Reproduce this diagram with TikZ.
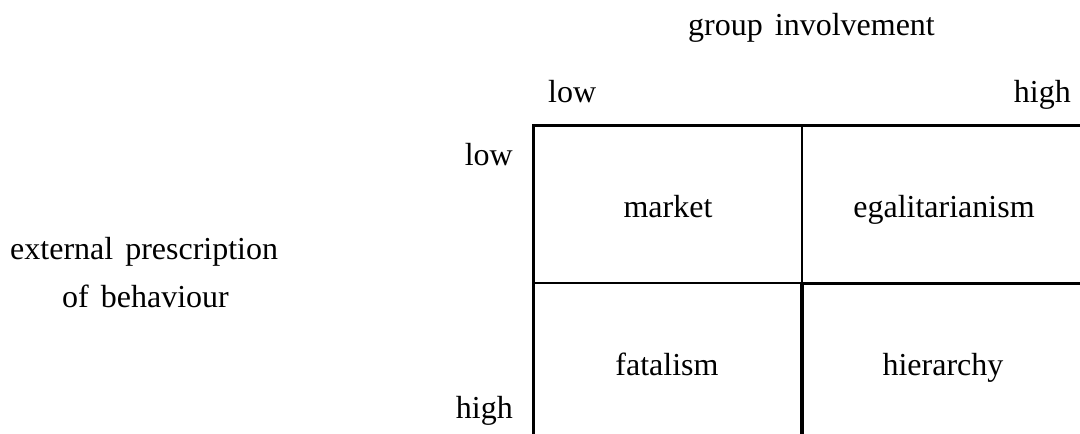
\documentclass[tikz,border=0pt]{standalone}
\usepackage{fontspec}
\setmainfont{Liberation Serif}
\newcommand{\lblfont}{\fontsize{32}{38}\selectfont\spaceskip=12pt plus 0pt minus 0pt\relax}
\begin{document}
\begin{tikzpicture}[x=1pt,y=-1pt,
  lbl/.style={inner sep=0pt,font=\lblfont},
  thin grid/.style={line width=2pt},
  mid grid/.style={line width=3pt},
  thick grid/.style={line width=4pt}]
\useasboundingbox (0,0) rectangle (1080,434);
% grid corners
\coordinate (tl) at (533,125);
\coordinate (tr) at (1080,125);
\coordinate (tm) at (802,125);
\coordinate (ml) at (533,283);
\coordinate (mm) at (802,283);
\coordinate (mr) at (1080,283);
\coordinate (bl) at (533,434);
\coordinate (bm) at (802,434);
\draw[mid grid,line cap=rect] (tr) -- (tl) -- (bl);
\draw[thin grid] (tm) -- (mm);
\draw[thin grid] (ml) -- (mm);
\draw[thick grid] (mm) -- (bm);
\draw[mid grid] ([xshift=-2pt]mm) -- (mr);
% labels
\node[lbl,anchor=base west] (gi) at (688,35) {group involvement};
\node[lbl,anchor=base west] (lowtop) at (548,102) {low};
\node[lbl,anchor=base east] (hightop) at (1071,102) {high};
\node[lbl,anchor=base east] (lowleft) at (513,165) {low};
\node[lbl,anchor=base east] (highleft) at (513,418) {high};
\node[lbl,anchor=base west] (ep) at (10,259) {external prescription};
\node[lbl,anchor=base west] (ob) at (62,307) {of behaviour};
\node[lbl,anchor=base] (market) at (668,217) {market};
\node[lbl,anchor=base] (egal) at (944,217) {egalitarianism};
\node[lbl,anchor=base] (fatal) at (667,375) {fatalism};
\node[lbl,anchor=base] (hier) at (943,375) {hierarchy};
\end{tikzpicture}
\end{document}
